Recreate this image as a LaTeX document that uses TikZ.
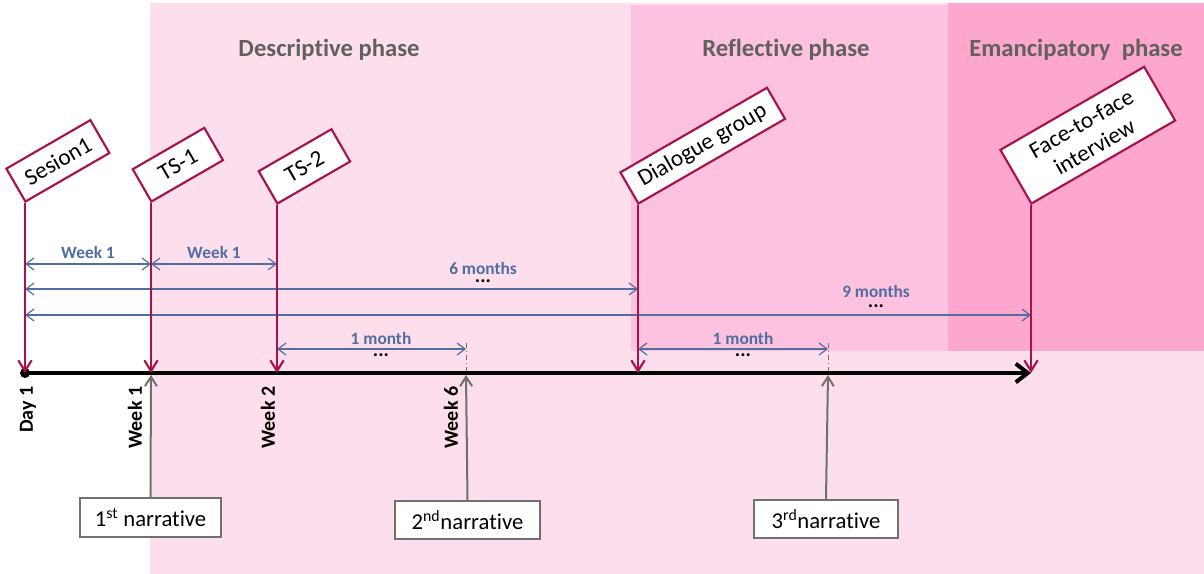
\documentclass[tikz,border=0pt]{standalone}
\usepackage{fontspec}
\setmainfont{Carlito}[Ligatures=NoCommon]
\usetikzlibrary{arrows.meta}
\definecolor{bgA}{RGB}{253,222,236}
\definecolor{bgB}{RGB}{253,194,223}
\definecolor{bgC}{RGB}{253,167,206}
\definecolor{evred}{RGB}{168,18,72}
\definecolor{dimblue}{RGB}{80,110,160}
\definecolor{phgrey}{RGB}{96,96,96}
\definecolor{nargrey}{RGB}{112,112,112}
\tikzset{
  evbox/.style={draw=evred, line width=1.6pt, fill=white, rotate=30, anchor=south west,
    inner sep=0pt, font=\fontsize{17.5}{20}\selectfont, align=center},
  narbox/.style={draw=nargrey, line width=1.5pt, fill=white, inner sep=0pt,
    font=\fontsize{17}{20}\selectfont},
  redarrow/.style={draw=evred, line width=1.6pt, -{Straight Barb[length=8pt,width=10pt,line width=1.6pt]}},
  greyarrow/.style={draw=nargrey, line width=1.5pt, -{Straight Barb[length=7pt,width=9pt,line width=1.5pt]}},
  dim/.style={draw=dimblue, line width=0.9pt,
    {Straight Barb[length=6pt,width=9pt]}-{Straight Barb[length=6pt,width=9pt]}},
  dimlabel/.style={text=dimblue, font=\bfseries\fontsize{13}{15}\selectfont},
  dots/.style={font=\bfseries\fontsize{15}{17}\selectfont},
  phase/.style={text=phgrey, font=\bfseries\fontsize{18.5}{21}\selectfont},
  daylabel/.style={rotate=90, anchor=east, font=\bfseries\fontsize{15}{17}\selectfont},
  dashdotline/.style={draw=nargrey, line width=0.7pt, dash pattern=on 4pt off 2pt on 1pt off 2pt},
  timeline/.style={line width=3pt, -{Straight Barb[length=9pt,width=14pt,line width=3pt]}}
}
\begin{document}
\begin{tikzpicture}[x=0.75pt,y=-0.75pt]
\useasboundingbox (0,0) rectangle (1204,574);
% phase backgrounds
\fill[bgA] (150,3) rectangle (1204,574);
\fill[bgB] (631,5) rectangle (948,351);
\fill[bgC] (948,3) rectangle (1204,351);
\node[phase] (ph1) at (329,50) {Descriptive phase};
\node[phase] (ph2) at (786,50) {Reflective phase};
\node[phase] (ph3) at (1076,50) {Emancipatory\ \ phase};

% timeline points
\coordinate (t0) at (25,373);
\coordinate (t1) at (151,373);
\coordinate (t2) at (277,373);
\coordinate (t6) at (466,373);
\coordinate (tdg) at (638,373);
\coordinate (tm) at (828,373);
\coordinate (tf) at (1031,373);
\coordinate (w6top) at (466,343);
\coordinate (mtop) at (828,343);

% dash-dot markers
\draw[dashdotline] (w6top) -- (t6);
\draw[dashdotline] (mtop) -- (tm);

% event boxes
\node[evbox, minimum width=72.75pt, minimum height=28.5pt] (s1) at (25,203) {Sesion1};
\node[evbox, minimum width=62pt, minimum height=28pt] (ts1) at (151,203) {TS-1};
\node[evbox, minimum width=63pt, minimum height=28pt] (ts2) at (277,205) {TS-2};
\node[evbox, minimum width=127pt, minimum height=27pt] (dg) at (638,205) {Dialogue group};
\node[evbox, minimum width=124.5pt, minimum height=46.5pt] (ff) at (1031,205) {Face-to-face\\interview};

% dimension arrows
\coordinate (d1a) at (25,264); \coordinate (d1b) at (151,264); \coordinate (d1c) at (277,264);
\draw[dim] (d1a) -- (d1b);
\draw[dim] (d1b) -- (d1c);
\node[dimlabel] (lw1) at (88,252) {Week 1};
\node[dimlabel] (lw2) at (214,252) {Week 1};

\coordinate (d6a) at (25,289); \coordinate (d6b) at (638,289);
\draw[dim] (d6a) -- (d6b);
\node[dimlabel] (l6) at (483,268) {6 months};
\node[dots] (dots6) at (483,281) {...};

\coordinate (d9a) at (25,315); \coordinate (d9b) at (1031,315);
\draw[dim] (d9a) -- (d9b);
\node[dimlabel] (l9) at (876,291) {9 months};
\node[dots] (dots9) at (876,306) {...};

\coordinate (dm1a) at (277,349); \coordinate (dm1b) at (466,349);
\draw[dim] (dm1a) -- (dm1b);
\node[dimlabel] (lm1) at (381,338) {1 month};
\node[dots] (dotsm1) at (381,355) {...};

\coordinate (dm2a) at (638,349); \coordinate (dm2b) at (828,349);
\draw[dim] (dm2a) -- (dm2b);
\node[dimlabel] (lm2) at (743,338) {1 month};
\node[dots] (dotsm2) at (743,355) {...};

% timeline
\draw[timeline] (t0) -- (tf);
\fill (t0) circle (5);

% red event arrows
\draw[redarrow] (s1.south west) -- (t0);
\draw[redarrow] (ts1.south west) -- (t1);
\draw[redarrow] (ts2.south west) -- (t2);
\draw[redarrow] (dg.south west) -- (tdg);
\draw[redarrow] (ff.south west) -- (tf);

% vertical labels
\node[daylabel] (lday1) at (28,382) {Day 1};
\node[daylabel] (lweek1) at (135,382) {Week 1};
\node[daylabel] (lweek2) at (268,382) {Week 2};
\node[daylabel] (lweek6) at (451,382) {Week 6};

% narratives
\node[narbox, minimum width=105.75pt, minimum height=29.25pt] (n1) at (150.5,517.5) {1\textsuperscript{st} narrative};
\node[narbox, minimum width=108.75pt, minimum height=28.5pt] (n2) at (467.5,520) {2\textsuperscript{nd}narrative};
\node[narbox, minimum width=108pt, minimum height=28.5pt] (n3) at (826,519) {3\textsuperscript{rd}narrative};
\coordinate (t1b) at (151,375);
\coordinate (t6b) at (466,375);
\coordinate (tmb) at (828,375);
\draw[greyarrow] (n1.north) -- (t1b);
\draw[greyarrow] (n2.north) -- (t6b);
\draw[greyarrow] (n3.north) -- (tmb);
\end{tikzpicture}
\end{document}
